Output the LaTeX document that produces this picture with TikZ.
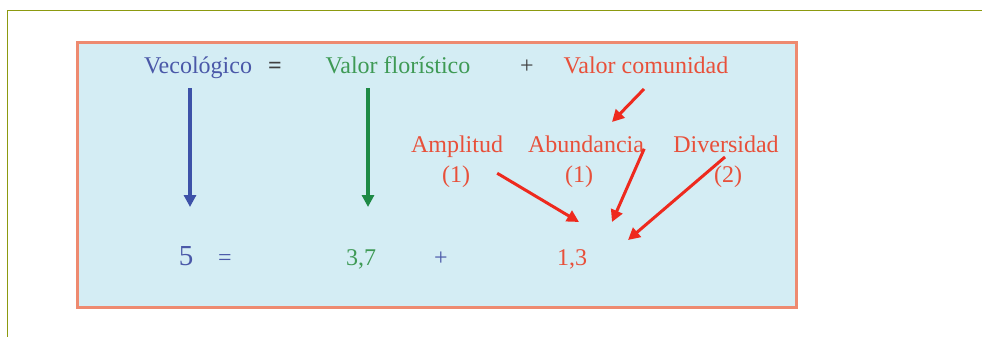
\documentclass[tikz,border=0pt]{standalone}
\usepackage{fontspec}
\setmainfont{Liberation Serif}
\usetikzlibrary{arrows.meta}

\definecolor{framegreen}{HTML}{8C9A10}
\definecolor{boxfill}{HTML}{D4EDF4}
\definecolor{boxline}{HTML}{EE8A70}
\definecolor{vblue}{HTML}{4A58A8}
\definecolor{vgreen}{HTML}{3E9A55}
\definecolor{vred}{HTML}{E8503A}
\definecolor{ablue}{HTML}{3D52A8}
\definecolor{agreen}{HTML}{1E8A45}
\definecolor{ared}{HTML}{EE2A1E}

\begin{document}
\begin{tikzpicture}[
    x=1pt, y=-1pt,
    every node/.style={font=\fontsize{24}{28}\selectfont, inner sep=0pt, anchor=base},
    big/.style={font=\fontsize{29}{32}\selectfont},
    arrow/.style={-{Triangle[width=12pt,length=12pt]}, line width=3.5pt},
    redarrow/.style={-{Triangle[width=12pt,length=12pt]}, line width=3pt, ared}
]
\useasboundingbox (0,0) rectangle (982,337);

% frame and box
\draw[framegreen, line width=1.5pt] (982,10.5) -- (7.5,10.5) -- (7.5,337);
\draw[boxline, fill=boxfill, line width=3pt] (77,43) rectangle (796,307);

% top row
\node[vblue] (veco) at (198,74) {Vecológico};
\node[black!75] (eqtop) at (275,74) {\textbf{=}};
\node[vgreen] (flor) at (398,74) {Valor florístico};
\node[black!75] (plustop) at (527,74) {+};
\node[vred] (valcom) at (646,74) {Valor comunidad};

% components
\node[vred] (ampl) at (457,152) {Amplitud};
\node[vred] (abun) at (586,152) {Abundancia};
\node[vred] (divers) at (726,152) {Diversidad};
\node[vred] (amplv) at (456,182) {(1)};
\node[vred] (abunv) at (579,182) {(1)};
\node[vred] (diversv) at (728,182) {(2)};

% bottom row
\node[vblue, big] (five) at (186,265) {5};
\node[vblue] (eqbot) at (225,265) {=};
\node[vgreen] (three) at (361,265) {3,7};
\node[vblue] (plusbot) at (441,265) {+};
\node[vred] (one) at (572,265) {1,3};

% arrow ends
\coordinate (vtop) at (190,88);
\coordinate (vbot) at (190,207);
\coordinate (ftop) at (368,88);
\coordinate (fbot) at (368,207);
\coordinate (ctop) at (644,89);
\coordinate (cbot) at (612,122);
\coordinate (aend) at (579,222);
\coordinate (bend) at (612,222);
\coordinate (dend) at (628,240);

\draw[arrow, ablue] (vtop) -- (vbot);
\draw[arrow, agreen] (ftop) -- (fbot);
\draw[redarrow] (ctop) -- (cbot);
\draw[redarrow] (amplv.east) ++(27,-3) -- (aend);
\draw[redarrow] (abun.east) ++(0,5) -- (bend);
\draw[redarrow] (divers.base) ++(-1,5) -- (dend);
\end{tikzpicture}
\end{document}
